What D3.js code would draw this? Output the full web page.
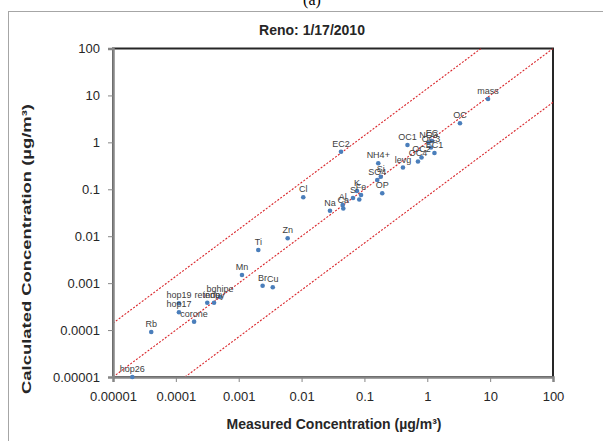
<!DOCTYPE html>
<html>
<head>
<meta charset="utf-8">
<script src="https://cdn.jsdelivr.net/npm/d3@7"></script>
<style>
  html, body { margin: 0; padding: 0; background: #fff; }
  svg { display: block; }
</style>
</head>
<body>
<svg id="chart" width="603" height="441"></svg>
<script>
// ---- data ----
const labels = ["mass","OC","EC2","OC1","NO3","EC","OC3","EC1","OC2","OC4","levg","NH4+","Si","SO4","OP","K","Fe","S","","Al","Ca","Na","Cl","Zn","Ti","Mn","Br","Cu","bghipe","indpy","retene","hop19","hop17","corone","Rb","hop26"];
const measured = [9.25,3.31,0.0424,0.484,1.045,1.19,1.146,1.30,0.81,0.711,0.41,0.166,0.182,0.160,0.192,0.0762,0.0883,0.0658,0.0828,0.0451,0.0461,0.0283,0.01064,0.00601,0.00205,0.001127,0.0024,0.00348,0.000504,0.000405,0.000316,0.000112,0.000112,0.000195,0.0000406,0.0000203];
const calculated = [8.4,2.55,0.632,0.879,0.993,1.07,0.777,0.593,0.476,0.391,0.291,0.358,0.185,0.158,0.0822,0.092,0.0755,0.0652,0.0605,0.0462,0.039,0.035,0.0675,0.00903,0.00508,0.00149,0.000883,0.000816,0.000507,0.000383,0.000383,0.000372,0.000239,0.000151,0.000091,0.00001];
const tickValues = [0.00001,0.0001,0.001,0.01,0.1,1,10,100];
const tickLabels = ["0.00001","0.0001","0.001","0.01","0.1","1","10","100"];
const ratio = 14; // factor of the outer guide lines

const svg = d3.select("#chart");
const L = 113, R = 553, T = 48.5, B = 377;
const x = d3.scaleLog().domain([1e-5, 100]).range([L, R]);
const y = d3.scaleLog().domain([1e-5, 100]).range([B, T]);

// outer frame and caption
svg.append("rect").attr("x", 8.5).attr("y", 11.5).attr("width", 608).attr("height", 440)
  .attr("fill", "none").attr("stroke", "#a6a6a6").attr("stroke-width", 1);
svg.append("text").attr("x", 312).attr("y", 5).attr("text-anchor", "middle")
  .attr("font-family", "Liberation Serif").attr("font-size", 16).attr("fill", "#000").text("(a)");

// title
svg.append("text").attr("x", 312).attr("y", 35).attr("text-anchor", "middle")
  .attr("font-family", "Liberation Sans").attr("font-weight", "bold").attr("font-size", 14)
  .attr("fill", "#262626").text("Reno: 1/17/2010");

// plot area border
svg.append("rect").attr("x", L).attr("y", T).attr("width", R - L).attr("height", B - T)
  .attr("fill", "#fff").attr("stroke", "#262626").attr("stroke-width", 2);

svg.append("clipPath").attr("id", "clip").append("rect")
  .attr("x", L).attr("y", T).attr("width", R - L).attr("height", B - T);

// guide lines
const gl = svg.append("g").attr("clip-path", "url(#clip)");
const line = d3.line().x(d => x(d[0])).y(d => y(d[1]));
const guides = [
  [[1e-5, 1e-5], [100, 100]],
  [[1e-5, 1e-5 * ratio], [100 / ratio, 100]],
  [[1e-5 * ratio, 1e-5], [100, 100 / ratio]]
];
guides.forEach(g => gl.append("path").attr("d", line(g)).attr("fill", "none")
  .attr("stroke", "#d9262b").attr("stroke-width", 1.1).attr("stroke-dasharray", "2,1.6"));

// axes
const xAxis = d3.axisBottom(x).tickValues(tickValues).tickFormat((d, i) => tickLabels[i]).tickSize(5).tickPadding(10);
const yAxis = d3.axisLeft(y).tickValues(tickValues).tickFormat((d, i) => tickLabels[i]).tickSize(5).tickPadding(8);
const gx = svg.append("g").attr("transform", `translate(0,${B})`).call(xAxis);
const gy = svg.append("g").attr("transform", `translate(${L},0)`).call(yAxis);
[gx, gy].forEach(g => {
  g.select(".domain").attr("stroke", "#868686").attr("stroke-width", 2.5);
  g.selectAll(".tick line").attr("stroke", "#868686").attr("stroke-width", 1);
  g.selectAll(".tick text").attr("font-family", "Liberation Sans").attr("font-size", 13).attr("fill", "#262626");
});

// points
const pts = labels.map((l, i) => ({ l, mx: measured[i], cy: calculated[i] }));
svg.append("g").selectAll("circle").data(pts).join("circle")
  .attr("cx", d => x(d.mx)).attr("cy", d => y(d.cy)).attr("r", 2.3).attr("fill", "#4a7ebb");
svg.append("g").selectAll("text").data(pts).join("text")
  .attr("x", d => x(d.mx)).attr("y", d => y(d.cy) - 5).attr("text-anchor", "middle")
  .attr("font-family", "Liberation Sans").attr("font-size", 9).attr("fill", "#404040")
  .text(d => d.l);

// axis titles
svg.append("text").attr("x", 334).attr("y", 429).attr("text-anchor", "middle")
  .attr("font-family", "Liberation Sans").attr("font-weight", "bold").attr("font-size", 14)
  .attr("fill", "#262626").text("Measured Concentration (µg/m³)");
svg.append("text").attr("transform", "translate(31,249) rotate(-90)").attr("text-anchor", "middle")
  .attr("font-family", "Liberation Sans").attr("font-weight", "bold").attr("font-size", 13.5)
  .attr("textLength", 290).attr("lengthAdjust", "spacingAndGlyphs")
  .attr("fill", "#262626").text("Calculated Concentration (µg/m³)");
</script>
</body>
</html>
